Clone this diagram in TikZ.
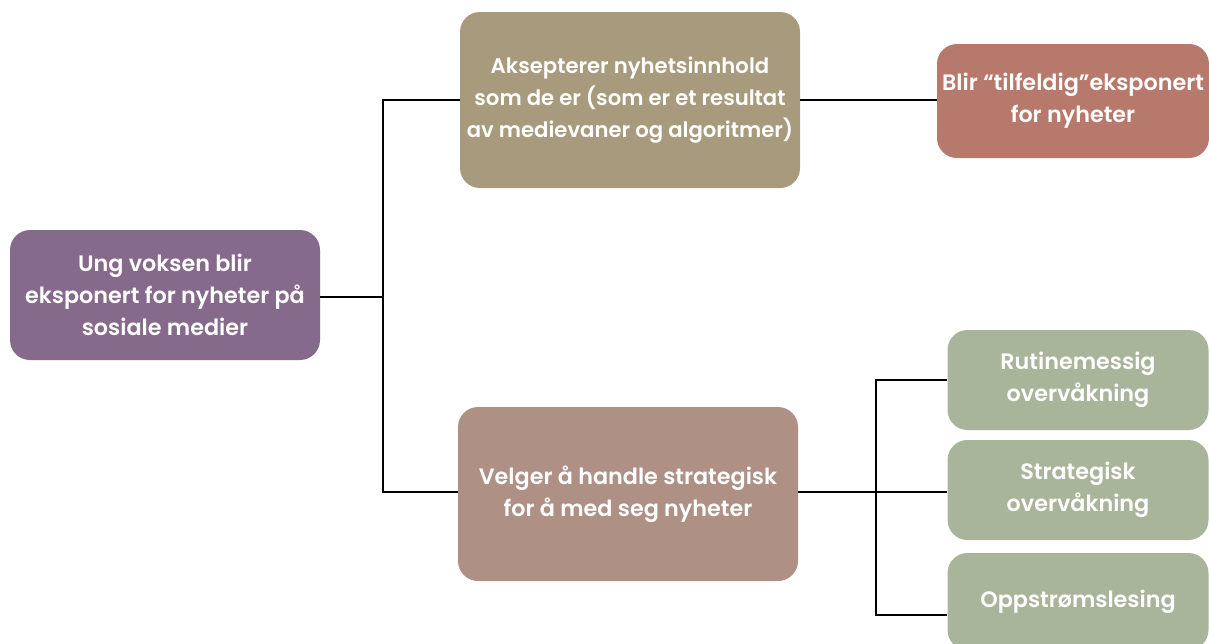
\documentclass[tikz,border=0pt]{standalone}
\usepackage{fontspec}
\setmainfont{Poppins}[BoldFont={* SemiBold}]
\definecolor{cpurple}{HTML}{856A8C}
\definecolor{ctan}{HTML}{A89A7C}
\definecolor{cred}{HTML}{B8796D}
\definecolor{cmauve}{HTML}{AE9184}
\definecolor{cgreen}{HTML}{A9B59B}
\tikzset{
  box/.style={draw=none, rounded corners=20pt, text=white, align=center, inner sep=0pt,
    font=\fontsize{22.3}{32}\selectfont\bfseries},
  conn/.style={draw=black, line width=1.6pt}
}
\begin{document}
\begin{tikzpicture}[x=1pt,y=-1pt]
\useasboundingbox (0,0) rectangle (1209,643);
\clip (0,0) rectangle (1209,643);
\fill[white] (0,0) rectangle (1209,643);
\node[box, fill=cpurple, minimum width=310pt, minimum height=130pt] (root) at (165,295)
  {Ung voksen blir\\eksponert for nyheter på\\sosiale medier};
\node[box, fill=ctan, minimum width=340pt, minimum height=176pt,
  font=\fontsize{21.2}{32}\selectfont\bfseries] (accept) at (630,100)
  {Aksepterer nyhetsinnhold\\som de er (som er et resultat\\av medievaner og algoritmer)};
\node[box, fill=cred, minimum width=272pt, minimum height=114pt] (tilf) at (1073,101)
  {Blir “tilfeldig”eksponert\\for nyheter};
\node[box, fill=cmauve, minimum width=340pt, minimum height=174pt] (strat) at (628,494)
  {Velger å handle strategisk\\for å med seg nyheter};
\node[box, fill=cgreen, minimum width=261pt, minimum height=100pt] (rutine) at (1078,380)
  {Rutinemessig\\overvåkning};
\node[box, fill=cgreen, minimum width=261pt, minimum height=100pt] (stratov) at (1078,490)
  {Strategisk\\overvåkning};
\node[box, fill=cgreen, minimum width=261pt, minimum height=97pt] (opp) at (1078,601.5)
  {Oppstrømslesing};
\coordinate (j1) at (383,297);
\coordinate (j2) at (876,492);
\draw[conn] (root.east |- j1) -- (j1);
\draw[conn] (j1) |- (accept.west |- 0,100);
\draw[conn] (j1) |- (strat.west |- 0,492);
\draw[conn] (accept.east |- 0,100) -- (tilf.west |- 0,100);
\draw[conn] (strat.east |- j2) -- (j2);
\draw[conn] (j2) |- (rutine.west |- 0,380);
\draw[conn] (j2) -- (stratov.west |- j2);
\draw[conn] (j2) |- (opp.west |- 0,615);
\end{tikzpicture}
\end{document}
